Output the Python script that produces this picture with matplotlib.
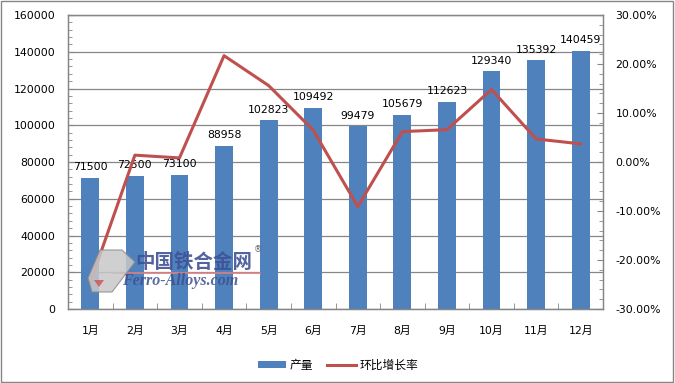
import matplotlib
matplotlib.use("Agg")
import matplotlib.pyplot as plt
from matplotlib.ticker import MultipleLocator, FuncFormatter
from matplotlib.patches import Rectangle, Polygon
from matplotlib.lines import Line2D

plt.rcParams['font.family'] = ['DejaVu Sans', 'Noto Sans CJK SC']

months = ['1月', '2月', '3月', '4月', '5月', '6月', '7月', '8月', '9月', '10月', '11月', '12月']
output = [71500, 72500, 73100, 88958, 102823, 109492, 99479, 105679, 112623, 129340, 135392, 140459]
growth = [-24.6, 1.4, 0.83, 21.7, 15.6, 6.5, -9.1, 6.2, 6.6, 14.8, 4.7, 3.7]

bar_color = '#4F81BD'
line_color = '#C0504D'
grid_color = '#868686'
fs = 7.8

W, H = 675, 383
fig = plt.figure(figsize=(W/100, H/100), dpi=100)
ax = fig.add_axes([68/W, 1-309/H, (603-68)/W, (309-15)/H])
x = list(range(len(months)))
ax.bar(x, output, width=0.4, color=bar_color, zorder=2, label='产量')
ax.set_ylim(0, 160000)
ax.set_xlim(-0.5, 11.5)
ax.yaxis.set_major_locator(MultipleLocator(20000))
ax.yaxis.set_minor_locator(MultipleLocator(4000))
ax.grid(axis='y', color=grid_color, linewidth=0.9, zorder=0)
ax.set_xticks(x)
ax.set_xticklabels(months, fontsize=fs, family=['DejaVu Sans', 'Noto Sans CJK SC'])
ax.set_xticks([i + 0.5 for i in x[:-1]], minor=True)
ax.tick_params(axis='x', which='major', length=4, direction='in', color=grid_color, pad=12)
ax.tick_params(axis='x', which='minor', length=4, direction='in', color=grid_color)
ax.tick_params(axis='y', which='major', labelsize=fs, length=4, direction='in', color=grid_color, pad=9)
ax.tick_params(axis='y', which='minor', length=3, direction='in', color=grid_color)
for s in ax.spines.values():
    s.set_color(grid_color)
    s.set_linewidth(0.9)

for xi, v in zip(x, output):
    ax.annotate(f'{v}', (xi, v), xytext=(0, 4), textcoords='offset points',
                ha='center', va='bottom', fontsize=fs, color='black', zorder=5)

ax2 = ax.twinx()
ax2.plot(x, growth, color=line_color, linewidth=2.2, zorder=3, label='环比增长率')
ax2.set_ylim(-30, 30)
ax2.yaxis.set_major_locator(MultipleLocator(10))
ax2.yaxis.set_minor_locator(MultipleLocator(2))
ax2.yaxis.set_major_formatter(FuncFormatter(lambda v, p: f'{v:.2f}%'))
ax2.tick_params(axis='y', which='major', labelsize=fs, length=4, direction='in', color=grid_color, pad=9)
ax2.tick_params(axis='y', which='minor', length=3, direction='in', color=grid_color)
for s in ax2.spines.values():
    s.set_color(grid_color)
    s.set_linewidth(0.9)

# watermark (logo-like)
def P(px, py):
    return (px/W, 1-py/H)
logo = Polygon([P(100, 250), P(122, 250), P(135, 262), P(112, 292), P(92, 292), P(88, 278)],
               closed=True, transform=fig.transFigure, facecolor='#c8c8c8', edgecolor='#8a8a8a',
               linewidth=0.8, alpha=0.85, zorder=9)
fig.patches.append(logo)
tri = Polygon([P(94, 280), P(104, 280), P(99, 287)], closed=True, transform=fig.transFigure,
              facecolor='#d05050', edgecolor='none', alpha=0.8, zorder=9)
fig.patches.append(tri)
fig.lines.append(Line2D([113/W, 260/W], [1-273/H, 1-273/H], transform=fig.transFigure,
                        color='#d98080', linewidth=1.2, zorder=9))
fig.text(135/W, 1-262/H, '中国铁合金网', fontsize=14, fontweight='bold', color='#3f5296',
         alpha=0.9, family=['Noto Sans CJK SC'], va='center', ha='left', zorder=10)
fig.text(122/W, 1-281/H, 'Ferro-Alloys.com', fontsize=11.5, fontstyle='italic', fontweight='bold',
         color='#3f4f8f', alpha=0.85, family=['Liberation Serif'], va='center', ha='left', zorder=10)
fig.text(258/W, 1-250/H, '®', fontsize=6, color='#666666', va='center', ha='center', zorder=10)

h1, l1 = ax.get_legend_handles_labels()
h2, l2 = ax2.get_legend_handles_labels()
fig.legend(h1 + h2, l1 + l2, loc='center', bbox_to_anchor=(338/W, 1-365/H), ncol=2,
           frameon=False, prop={'family': ['Noto Sans CJK SC'], 'size': 8.5},
           handlelength=2.4, handleheight=0.6, columnspacing=1.2, handletextpad=0.3)

fig.patches.append(Rectangle((0.002, 0.003), 0.995, 0.994, transform=fig.transFigure,
                             fill=False, edgecolor=grid_color, linewidth=1))

fig.savefig('out.png', dpi=100)
